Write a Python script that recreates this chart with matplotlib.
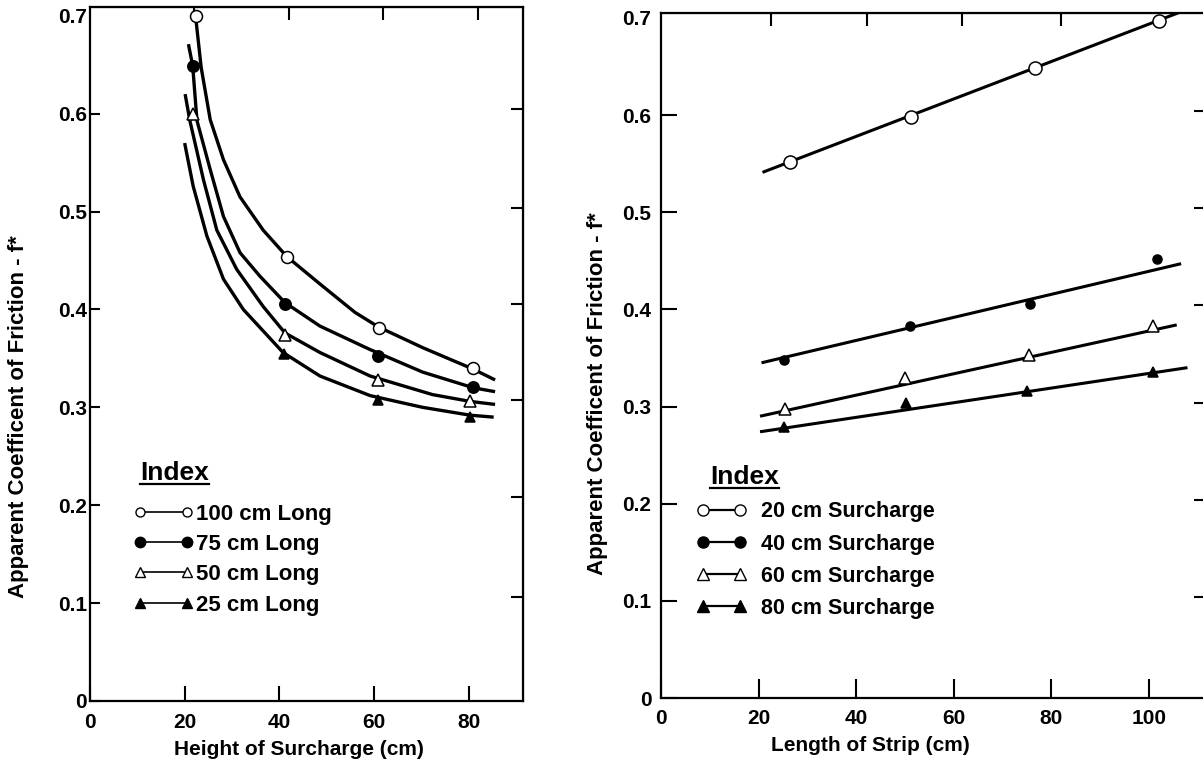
import matplotlib
matplotlib.use('Agg')
import matplotlib.pyplot as plt
from matplotlib.lines import Line2D
from matplotlib.transforms import IdentityTransform

plt.rcParams['font.family'] = ['Liberation Sans', 'DejaVu Sans']
plt.rcParams['font.weight'] = 'bold'
FAM = ['Liberation Sans', 'DejaVu Sans']

# ---- left panel: f* vs height of surcharge, one curve per strip length ----
len_labels = ['100 cm Long', '75 cm Long', '50 cm Long', '25 cm Long']

# fitted curves
c100_x = [22.3, 23.5, 25.4, 28.2, 31.7, 36.6, 41.6, 48.6, 56.0, 61.0, 70.3, 81.0, 85.6]
c100_y = [0.700, 0.647, 0.594, 0.553, 0.515, 0.481, 0.454, 0.426, 0.397, 0.382, 0.361, 0.339, 0.328]
c75_x = [20.8, 21.7, 22.6, 25.4, 28.2, 31.7, 35.9, 41.2, 48.6, 59.2, 70.3, 81.0, 85.6]
c75_y = [0.671, 0.649, 0.593, 0.543, 0.495, 0.458, 0.434, 0.407, 0.383, 0.359, 0.336, 0.320, 0.316]
c50_x = [20.1, 21.1, 24.0, 26.8, 31.0, 36.6, 41.2, 48.6, 59.2, 72.4, 80.4, 85.6]
c50_y = [0.620, 0.593, 0.532, 0.481, 0.441, 0.403, 0.376, 0.356, 0.332, 0.313, 0.306, 0.303]
c25_x = [20.0, 21.8, 24.7, 28.2, 32.4, 40.8, 48.6, 59.2, 70.3, 80.3, 85.3]
c25_y = [0.570, 0.526, 0.475, 0.431, 0.400, 0.356, 0.332, 0.312, 0.300, 0.292, 0.290]

# measured points
p100_x = [22.3, 41.6, 61.0, 81.0]
p100_y = [0.700, 0.454, 0.381, 0.340]
p75_x = [21.7, 41.2, 60.8, 81.0]
p75_y = [0.649, 0.406, 0.352, 0.321]
p50_x = [21.7, 41.2, 60.8, 80.4]
p50_y = [0.600, 0.374, 0.328, 0.306]
p25_x = [41.0, 60.8, 80.3]
p25_y = [0.355, 0.307, 0.290]

# ---- right panel: f* vs length of strip, one line per surcharge ----
sur_labels = ['20 cm Surcharge', '40 cm Surcharge', '60 cm Surcharge', '80 cm Surcharge']

s20_x = [26.5, 51.2, 76.6, 102.1]
s20_y = [0.552, 0.598, 0.648, 0.697]
s40_x = [25.2, 51.0, 75.6, 101.6]
s40_y = [0.348, 0.383, 0.405, 0.452]
s60_x = [25.4, 50.1, 75.5, 100.9]
s60_y = [0.297, 0.329, 0.353, 0.383]
s80_x = [25.2, 50.2, 75.1, 100.9]
s80_y = [0.279, 0.304, 0.316, 0.336]

# fitted straight lines (end points)
f20_x = [20.8, 108.0]
f20_y = [0.541, 0.709]
f40_x = [20.6, 106.6]
f40_y = [0.345, 0.447]
f60_x = [20.3, 105.7]
f60_y = [0.290, 0.384]
f80_x = [20.3, 107.9]
f80_y = [0.274, 0.340]

yticks = [0, 0.1, 0.2, 0.3, 0.4, 0.5, 0.6, 0.7]
ytick_labels = ['0', '0.1', '0.2', '0.3', '0.4', '0.5', '0.6', '0.7']
right_ticks = [0.106, 0.208, 0.308, 0.406, 0.504, 0.605]
ylabel = 'Apparent Coefficent of Friction - f*'

# marker styles: open circle, filled circle, open triangle, filled triangle
styles = [dict(marker='o', mfc='white'), dict(marker='o', mfc='black'),
          dict(marker='^', mfc='white'), dict(marker='^', mfc='black')]


def style_axes(ax, xticks, top_ticks, r_ticks, fs, xpad, ypad, xlen, ylen):
    for s in ax.spines.values():
        s.set_linewidth(1.6)
    ax.set_xticks(xticks)
    ax.set_xticklabels([str(v) for v in xticks], fontsize=fs, fontweight='bold')
    ax.set_yticks(yticks)
    ax.set_yticklabels(ytick_labels, fontsize=fs, fontweight='bold')
    ax.tick_params(axis='x', direction='in', length=xlen, width=1.5, pad=xpad)
    ax.tick_params(axis='y', direction='in', length=ylen, width=1.5, pad=ypad)
    # no tick mark at 0.7, only the label
    ax.yaxis.get_major_ticks()[-1].tick1line.set_visible(False)
    top = ax.secondary_xaxis('top')
    top.set_xticks(top_ticks)
    top.tick_params(direction='in', length=9.5, width=1.5, labeltop=False)
    right = ax.secondary_yaxis('right')
    right.set_yticks(r_ticks)
    right.tick_params(direction='in', length=8.5, width=1.5, labelright=False)


def index_legend(ax, handles, labels, anchor, title_xy, fs, title_fs,
                 hl, htp, lsp):
    leg = ax.legend(handles, labels, loc='upper left', bbox_to_anchor=anchor,
                    numpoints=2, handlelength=hl, handletextpad=htp,
                    labelspacing=lsp, borderpad=0, borderaxespad=0,
                    frameon=False,
                    prop=dict(family=FAM, weight='bold', size=fs))
    t = ax.text(title_xy[0], title_xy[1], 'Index', transform=ax.transAxes,
                fontsize=title_fs, fontweight='bold', va='baseline')
    return leg, t


fig = plt.figure(figsize=(12.03, 7.6), dpi=100)
ax1 = fig.add_axes([90 / 1203, 59 / 760, 433 / 1203, 694 / 760])
ax2 = fig.add_axes([661 / 1203, 62 / 760, 545 / 1203, 685 / 760])

# left panel
curves = [(c100_x, c100_y), (c75_x, c75_y), (c50_x, c50_y), (c25_x, c25_y)]
points = [(p100_x, p100_y), (p75_x, p75_y), (p50_x, p50_y), (p25_x, p25_y)]
left_ms = [8.6, 8.2, 8.0, 7.0]
for (cx, cy), (px, py), st, ms in zip(curves, points, styles, left_ms):
    ax1.plot(cx, cy, color='black', lw=2.4, solid_capstyle='butt',
             solid_joinstyle='round', zorder=2)
    ax1.plot(px, py, ls='none', mec='black', mew=1.1, ms=ms, zorder=3, **st)
ax1.set_xlim(0, 91.5)
ax1.set_ylim(0, 0.709)
style_axes(ax1, [0, 20, 40, 60, 80], [22, 42, 62, 82], right_ticks,
           15, 9, 2, 10.8, 7)
ax1.set_xlabel('Height of Surcharge (cm)', fontsize=15, fontweight='bold')
ax1.set_ylabel(ylabel, fontsize=16, fontweight='bold')
ax1.xaxis.set_label_coords(0.483, -0.056)
ax1.yaxis.set_label_coords(-0.141, 0.41)

lh1 = [Line2D([], [], color='black', lw=1.2, mec='black', mew=1.0, ms=m, **st)
       for st, m in zip(styles, [6.5, 7.5, 7.0, 7.0])]
leg1, t1 = index_legend(ax1, lh1, len_labels, (0.100, 0.2845), (0.1155, 0.318),
                        16, 19, 2.72, 0.1, 0.42)

# right panel
fits = [(f20_x, f20_y), (f40_x, f40_y), (f60_x, f60_y), (f80_x, f80_y)]
meas = [(s20_x, s20_y), (s40_x, s40_y), (s60_x, s60_y), (s80_x, s80_y)]
right_ms = [9.4, 6.5, 8.0, 7.5]
for (fx, fy), (sx, sy), st, ms in zip(fits, meas, styles, right_ms):
    ax2.plot(fx, fy, color='black', lw=2.2, solid_capstyle='butt', zorder=2)
    ax2.plot(sx, sy, ls='none', mec='black', mew=1.1, ms=ms, zorder=3, **st)
ax2.set_xlim(0, 111.7)
ax2.set_ylim(0, 0.705)
style_axes(ax2, [0, 20, 40, 60, 80, 100], [22.5, 42.3, 61.6, 82.0],
           [v + 0.004 for v in yticks[1:7]], 15, 8, 7, 13.7, 11.5)
ax2.set_xlabel('Length of Strip (cm)', fontsize=15, fontweight='bold')
ax2.set_ylabel(ylabel, fontsize=16, fontweight='bold')
ax2.xaxis.set_label_coords(0.384, -0.055)
ax2.yaxis.set_label_coords(-0.097, 0.444)

lh2 = [Line2D([], [], color='black', lw=1.6, mec='black', mew=1.0, ms=m, **st)
       for st, m in zip(styles, [8.0, 8.0, 8.0, 8.0])]
leg2, t2 = index_legend(ax2, lh2, sur_labels, (0.065, 0.287), (0.09, 0.312),
                        15.5, 19, 2.34, 0.65, 0.52)

# underline the two "Index" titles
fig.canvas.draw()
for t in (t1, t2):
    bb = t.get_window_extent()
    base = t.get_transform().transform(t.get_position())[1]
    fig.add_artist(Line2D([bb.x0, bb.x1], [base - 4, base - 4], color='black',
                          lw=1.6, transform=IdentityTransform()))

fig.savefig('out.png', dpi=100)
